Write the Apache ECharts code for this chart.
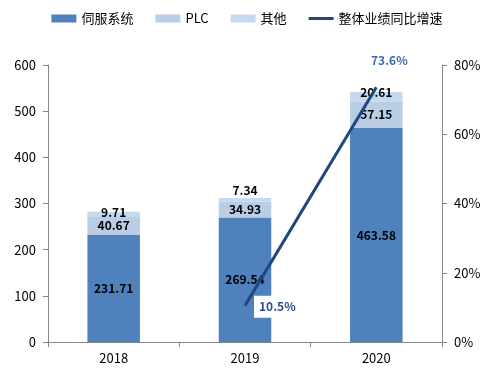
<!DOCTYPE html>
<html>
<head>
<meta charset="utf-8">
<script src="https://cdn.jsdelivr.net/npm/echarts@6/dist/echarts.min.js"></script>
<style>html,body{margin:0;padding:0;background:#fff}#c{width:494px;height:378px}</style>
</head>
<body>
<div id="c"></div>
<script>
var categories = ['2018', '2019', '2020'];
var servo = [231.71, 269.54, 463.58];
var plc = [40.67, 34.93, 57.15];
var other = [9.71, 7.34, 20.61];
var growth = [null, 10.5, 73.6];
var leftTicks = [0, 100, 200, 300, 400, 500, 600];
var rightTicks = [0, 20, 40, 60, 80];

var font = '"Noto Sans CJK SC", "Noto Sans", sans-serif';
var chart = echarts.init(document.getElementById('c'));
var barLabel = {show: true, position: 'inside', color: '#000', fontWeight: 'bold', fontSize: 12, fontFamily: font};
chart.setOption({
  animation: false,
  textStyle: {fontFamily: font},
  legend: {
    top: 7, left: 'center', itemWidth: 25, itemHeight: 8, itemGap: 22,
    textStyle: {fontSize: 13, color: '#000', fontFamily: font},
    data: [
      {name: '伺服系统', icon: 'rect'},
      {name: 'PLC', icon: 'rect'},
      {name: '其他', icon: 'rect'},
      {name: '整体业绩同比增速', icon: 'path://M0,0 L25,0 L25,3 L0,3 Z'}
    ]
  },
  grid: {left: 48, right: 52, top: 65, bottom: 36},
  xAxis: {
    type: 'category', data: categories,
    axisLine: {lineStyle: {color: '#868686'}},
    axisTick: {show: true, alignWithLabel: false, lineStyle: {color: '#868686'}},
    axisLabel: {color: '#000', fontSize: 13, margin: 10}
  },
  yAxis: [
    {
      type: 'value', min: leftTicks[0], max: leftTicks[leftTicks.length - 1], interval: 100,
      axisLine: {show: true, lineStyle: {color: '#868686'}},
      axisTick: {show: true, length: 5, lineStyle: {color: '#868686'}},
      axisLabel: {color: '#000', fontSize: 13, margin: 12},
      splitLine: {show: false}
    },
    {
      type: 'value', min: rightTicks[0], max: rightTicks[rightTicks.length - 1], interval: 20,
      axisLine: {show: true, lineStyle: {color: '#868686'}},
      axisTick: {show: true, length: 5, lineStyle: {color: '#868686'}},
      axisLabel: {color: '#000', fontSize: 13, margin: 12, formatter: '{value}%'},
      splitLine: {show: false}
    }
  ],
  series: [
    {name: '伺服系统', type: 'bar', stack: 's', data: servo, barWidth: '40%',
      itemStyle: {color: '#4F81BD'}, label: barLabel},
    {name: 'PLC', type: 'bar', stack: 's', data: plc,
      itemStyle: {color: '#B9CDE5'}, label: barLabel},
    {name: '其他', type: 'bar', stack: 's',
      data: [
        {value: other[0], label: {position: 'inside', offset: [0, -2]}},
        {value: other[1], label: {position: 'top', distance: 2}},
        {value: other[2], label: {position: 'inside', offset: [0, -4]}}
      ],
      itemStyle: {color: '#C6D9F1'}, label: barLabel},
    {name: '整体业绩同比增速', type: 'line', yAxisIndex: 1, z: 5,
      symbol: 'circle', symbolSize: 0.01, showSymbol: true,
      lineStyle: {color: '#1F497D', width: 3},
      itemStyle: {color: '#1F497D'},
      data: [
        growth[0],
        {value: growth[1], label: {show: true, position: 'right', offset: [4, 1], formatter: '{c}%',
          color: '#2B4C8C', fontWeight: 'bold', fontSize: 12, backgroundColor: '#fff', padding: [5, 5, 5, 5]}},
        {value: growth[2], label: {show: true, position: 'top', offset: [13, -16], formatter: '{c}%',
          color: '#3A6AAE', fontWeight: 'bold', fontSize: 12}}
      ]
    }
  ]
});
</script>
</body>
</html>
